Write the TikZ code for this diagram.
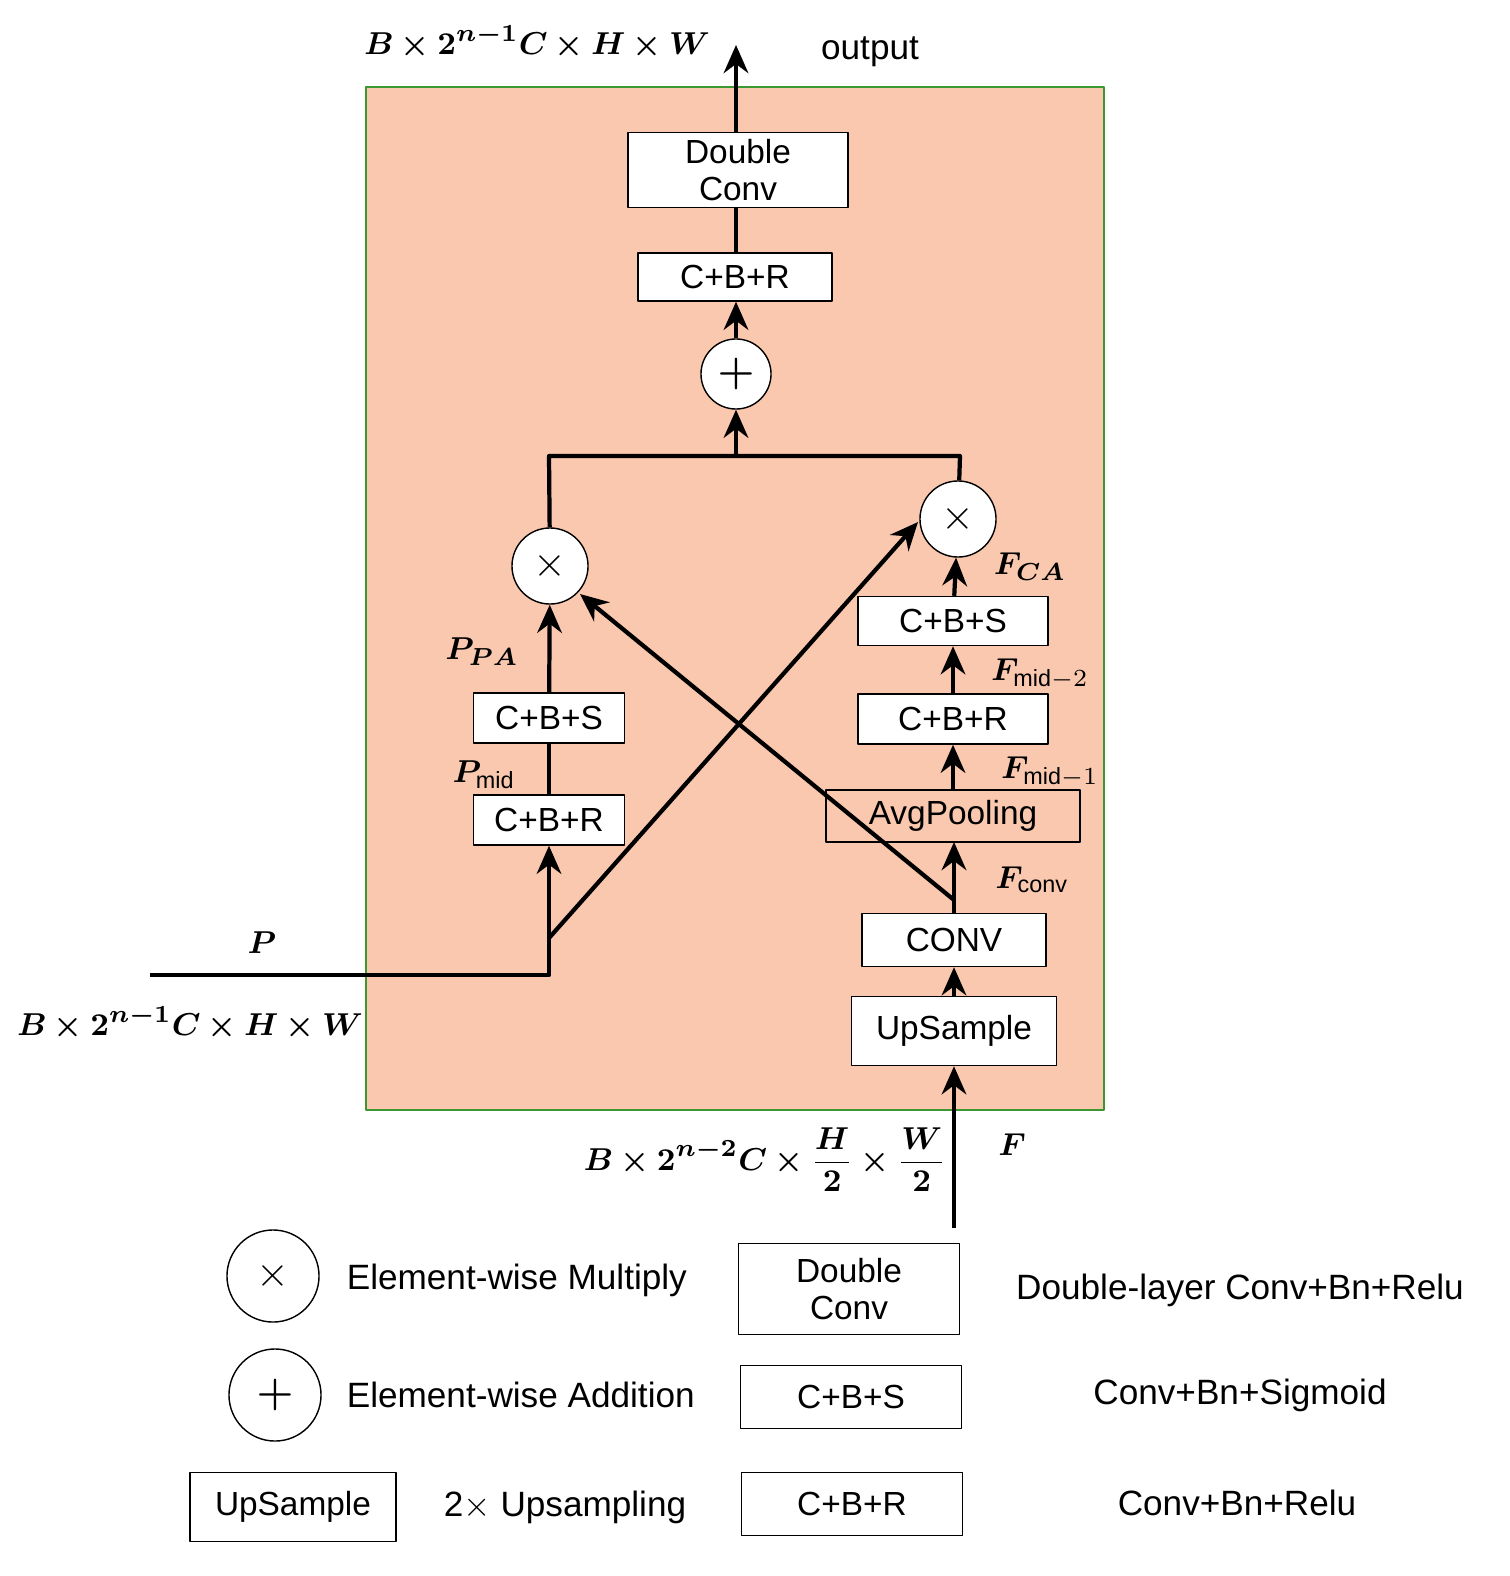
\documentclass[tikz,border=0pt]{standalone}
\usepackage{amsmath,amssymb,bm}
\usepackage{fontspec}
\setmainfont{Liberation Sans}
\usetikzlibrary{arrows.meta,positioning,calc}
\definecolor{peach}{RGB}{249,200,174}
\definecolor{frame}{RGB}{60,150,50}
\begin{document}
\begin{tikzpicture}[x=0.01cm,y=-0.01cm,line join=round,>={Stealth[length=8pt,width=7pt]},very thick,
  blk/.style={draw,thin,fill=white,inner sep=0pt,font=\fontsize{9.5}{10.5}\selectfont,align=center},
  op/.style={draw,thin,fill=white,circle,minimum size=0.76cm,inner sep=0pt,font=\large},
  lbl/.style={font=\fontsize{9.5}{11}\selectfont},
  txt/.style={font=\fontsize{10}{12}\selectfont}]
\useasboundingbox (0,0) rectangle (1510,1576);
\draw[thick,draw=frame,fill=peach] (366,87) rectangle (1104,1110);
% top path
\node[blk,minimum width=2.2cm,minimum height=0.75cm] (dc) at (738,170) {Double\\Conv};
\node[blk,minimum width=1.94cm,minimum height=0.48cm] (cbrt) at (735,277) {C+B+R};
\node[op,minimum size=0.7cm] (add) at (736,374) {$\bm{+}$};
\coordinate (out) at (736,45);
\draw[->] (dc.north -| out) -- (out);
\draw (cbrt.north -| out) -- (dc.south -| out);
\draw[->] (add) -- (cbrt.south -| add);
% multiply nodes
\node[op] (mulL) at (550,566) {$\times$};
\node[op] (mulR) at (958,519) {$\times$};
\coordinate (jL) at (549,456);
\coordinate (jM) at (736,456);
\coordinate (jR) at (960,456);
\draw (mulL) -- (jL) -- (jR) -- (mulR);
\draw[->] (jM) -- (add);
% left column
\node[blk,minimum width=1.51cm,minimum height=0.5cm] (cbsL) at (549,718) {C+B+S};
\node[blk,minimum width=1.51cm,minimum height=0.5cm] (cbrL) at (549,820) {C+B+R};
\draw (cbrL) -- (cbsL);
\draw[->] (cbsL) -- (mulL);
\coordinate (pin) at (150,975);
\coordinate (pc) at (549,975);
\coordinate (pb) at (549,938);
\coordinate (pe) at (918,522);
\draw[->] (pin) -- (pc) -- (cbrL);
\draw[->] (pb) -- (pe);
% right column
\node[blk,minimum width=2.05cm,minimum height=0.69cm] (up) at (954,1031) {UpSample};
\node[blk,minimum width=1.84cm,minimum height=0.53cm] (conv) at (954,940) {CONV};
\coordinate (fin) at (954,1228);
\coordinate (dg) at (954,900);
\coordinate (de) at (580,594);
\draw[->] (fin) -- (up);
\draw[->] (up) -- (conv);
\draw[->] (conv) -- (954,842);
\draw[->] (dg) -- (de);
\node[blk,fill=none,minimum width=2.54cm,minimum height=0.52cm] (avg) at (953,816) {AvgPooling};
\node[blk,minimum width=1.9cm,minimum height=0.5cm] (cbrR) at (953,719) {C+B+R};
\node[blk,minimum width=1.9cm,minimum height=0.49cm] (cbsR) at (953,621) {C+B+S};
\draw[->] (avg) -- (cbrR);
\draw[->] (cbrR) -- (cbsR);
\draw[->] (cbsR) -- (mulR);
% labels
\node[lbl] (lo) at (537,42) {$\bm{B\times 2^{n-1}C\times H\times W}$};
\node[txt] (lout) at (870,52) {output};
\node[lbl] (lppa) at (482,652) {$\bm{P}_{\bm{PA}}$};
\node[lbl] (lpmid) at (484,775) {$\bm{P}_{\text{mid}}$};
\node[lbl] (lfca) at (1030,567) {$\bm{F}_{\bm{CA}}$};
\node[lbl] (lfm2) at (1040,674) {$\bm{F}_{\text{mid}-2}$};
\node[lbl] (lfm1) at (1050,772) {$\bm{F}_{\text{mid}-1}$};
\node[lbl] (lfc) at (1032,880) {$\bm{F}_{\text{conv}}$};
\node[lbl] (lp) at (262,943) {$\bm{P}$};
\node[lbl] (lpin) at (190,1023) {$\bm{B\times 2^{n-1}C\times H\times W}$};
\node[lbl] (lfin) at (765,1160) {$\bm{B\times 2^{n-2}C\times \dfrac{H}{2}\times\dfrac{W}{2}}$};
\node[lbl] (lf) at (1012,1145) {$\bm{F}$};
% legend
\node[op,minimum size=0.92cm] (kmul) at (273,1276) {$\times$};
\node[txt,anchor=west] (tmul) at (333,1280) {Element-wise Multiply};
\node[blk,minimum width=2.21cm,minimum height=0.91cm] (kdc) at (849,1289) {Double\\Conv};
\node[txt] (tdc) at (1240,1290) {Double-layer Conv+Bn+Relu};
\node[op,minimum size=0.92cm] (kadd) at (275,1395) {$\bm{+}$};
\node[txt,anchor=west] (tadd) at (333,1395) {Element-wise Addition};
\node[blk,minimum width=2.21cm,minimum height=0.63cm] (kcbs) at (851,1397) {C+B+S};
\node[txt] (tcbs) at (1240,1395) {Conv+Bn+Sigmoid};
\node[blk,minimum width=2.06cm,minimum height=0.69cm] (kup) at (293,1507) {UpSample};
\node[txt] (tup) at (565,1507) {2$\times$ Upsampling};
\node[blk,minimum width=2.21cm,minimum height=0.63cm] (kcbr) at (852,1504) {C+B+R};
\node[txt] (tcbr) at (1237,1503) {Conv+Bn+Relu};
\end{tikzpicture}
\end{document}
